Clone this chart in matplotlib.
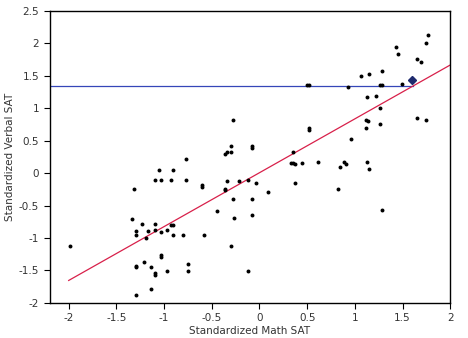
import numpy as np
import matplotlib
matplotlib.use("Agg")
import matplotlib.pyplot as plt

# standardized scores (math, verbal)
math_sat = [-1.99, -1.32, -1.34, -1.23, -1.29, -1.29, -1.17, -1.19, -1.10, -1.10,
            -1.03, -0.97, -0.93, -0.91, -0.91, -0.80, -1.10, -1.03, -0.93, -1.05,
            -0.91, -0.77, -1.21, -1.29, -1.29, -1.14, -1.10, -1.10, -1.03, -1.03,
            -0.97, -1.14, -1.29, -0.75, -0.75, -0.77, -0.60, -0.60, -0.58, -0.45,
            -0.36, -0.36, -0.34, -0.28, -0.27, -0.30, -0.21, -0.12, -0.04, -0.08,
            -0.08, -0.12, -0.36, -0.34, -0.30, -0.28, -0.30, -0.08, -0.08, 0.09,
            0.35, 0.33, 0.35, 0.37, 0.37, 0.52, 0.52, 0.96, 0.45, 0.61,
            0.89, 0.91, 0.84, 1.13, 1.15, 0.82, 1.28, 1.77, 1.75, 1.43,
            1.45, 1.65, 1.69, 1.28, 1.15, 1.06, 0.50, 0.52, 0.93, 1.26,
            1.28, 1.49, 1.13, 1.22, 1.26, 1.65, 1.75, 1.12, 1.14, 1.12, 1.26]
verbal_sat = [-1.12, -0.24, -0.71, -0.78, -0.90, -0.96, -0.90, -1.00, -0.78, -0.88,
              -0.91, -0.88, -0.80, -0.80, -0.96, -0.96, -0.11, -0.10, -0.11, 0.05,
              0.05, -0.11, -1.37, -1.43, -1.45, -1.45, -1.54, -1.57, -1.27, -1.30,
              -1.51, -1.79, -1.88, -1.40, -1.51, 0.22, -0.18, -0.22, -0.96, -0.58,
              -0.24, -0.26, -0.13, -0.40, -0.69, -1.12, -0.13, -0.11, -0.15, -0.40,
              -0.64, -1.51, 0.30, 0.33, 0.33, 0.81, 0.41, 0.41, 0.39, -0.29,
              0.33, 0.16, 0.15, 0.14, -0.15, 0.66, 0.69, 0.53, 0.16, 0.17,
              0.17, 0.14, 0.09, 0.17, 0.06, -0.24, -0.57, 2.13, 2.00, 1.95,
              1.84, 1.75, 1.71, 1.58, 1.53, 1.49, 1.36, 1.35, 1.32, 1.36,
              1.35, 1.37, 1.17, 1.19, 1.01, 0.85, 0.81, 0.81, 0.80, 0.69, 0.75]

# regression line and the highlighted point
slope, intercept = 0.83, 0.005
line_x = [-2, 2]
point_x, point_y = 1.60, 1.43
level_y = 1.34

xticks = [-2, -1.5, -1, -0.5, 0, 0.5, 1, 1.5, 2]
xlabels = ["-2", "-1.5", "-1", "-0.5", "0", "0.5", "1", "1.5", "2"]
yticks = [-2, -1.5, -1, -0.5, 0, 0.5, 1, 1.5, 2, 2.5]
ylabels = ["-2", "-1.5", "-1", "-0.5", "0", "0.5", "1", "1.5", "2", "2.5"]

fig = plt.figure(figsize=(4.68, 3.38), dpi=100)
ax = fig.add_axes([0.106, 0.104, 0.856, 0.864])

ax.plot([-2.2, (level_y - intercept) / slope], [level_y, level_y],
        color="#3546b8", lw=0.9, zorder=1)
lx = np.array(line_x)
ax.plot(lx, slope * lx + intercept, color="#d8204a", lw=0.9, zorder=1)
ax.scatter(math_sat, verbal_sat, s=8, color="black", linewidths=0, zorder=2)
ax.plot(point_x, point_y, marker="D", ms=4.5, color="#1e2a6e", zorder=3)

ax.set_xlim(-2.2, 2)
ax.set_ylim(-2, 2.5)
ax.set_xticks(xticks)
ax.set_xticklabels(xlabels)
ax.set_yticks(yticks)
ax.set_yticklabels(ylabels)
ax.tick_params(labelsize=7.5, length=4, width=0.8, colors="black", labelcolor="#333333")
for s in ax.spines.values():
    s.set_linewidth(1.0)
ax.set_xlabel("Standardized Math SAT", fontsize=7.5, color="#333333", labelpad=2)
ax.set_ylabel("Standardized Verbal SAT", fontsize=7.5, color="#333333", labelpad=3)

fig.savefig("out.png", dpi=100)
